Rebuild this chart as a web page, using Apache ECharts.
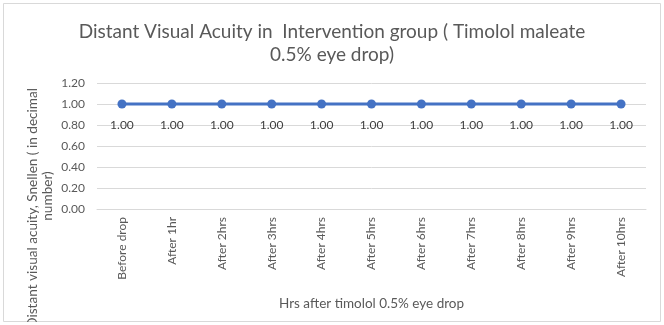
<!DOCTYPE html>
<html>
<head>
<meta charset="utf-8">
<script src="https://cdn.jsdelivr.net/npm/echarts@6/dist/echarts.min.js"></script>
<style>
html,body{margin:0;padding:0;background:#fff;}
#c{width:664px;height:325px;}
</style>
</head>
<body>
<div id="c"></div>
<script>
const categories = ['Before drop','After 1hr','After 2hrs','After 3hrs','After 4hrs','After 5hrs','After 6hrs','After 7hrs','After 8hrs','After 9hrs','After 10hrs'];
const acuity = [1.00,1.00,1.00,1.00,1.00,1.00,1.00,1.00,1.00,1.00,1.00];
const yTicks = [0.00,0.20,0.40,0.60,0.80,1.00,1.20];

const FONT = 'Lato, "Open Sans", sans-serif';
const chart = echarts.init(document.getElementById('c'), null, {renderer:'canvas'});
chart.setOption({
  animation:false,
  backgroundColor:'#ffffff',
  title:{
    text:'Distant Visual Acuity in  Intervention group ( Timolol maleate\n0.5% eye drop)',
    left:'center', top:15,
    textStyle:{fontFamily:FONT, fontSize:19, fontWeight:'normal', color:'#595959', lineHeight:23, align:'center'}
  },
  graphic:[
    {type:'rect', shape:{x:3.5,y:3.5,width:657,height:318}, style:{fill:'none', stroke:'#d9d9d9', lineWidth:1}, silent:true, z:-1},
    {type:'text', x:33, y:88, rotation:Math.PI/2, style:{text:'Distant visual acuity, Snellen ( in decimal', fontFamily:FONT, fontSize:13.6, fill:'#595959', textAlign:'right', textVerticalAlign:'middle'}},
    {type:'text', x:48, y:196, rotation:Math.PI/2, style:{text:'number)', fontFamily:FONT, fontSize:13.6, fill:'#595959', textAlign:'center', textVerticalAlign:'middle'}},
    {type:'rect', shape:{x:0,y:322,width:664,height:3}, style:{fill:'#ffffff'}, silent:true, z:100}
  ],
  grid:{left:97, right:18, top:83, bottom:116, containLabel:false},
  xAxis:{
    type:'category', data:categories, boundaryGap:true,
    name:'Hrs after timolol 0.5% eye drop', nameLocation:'middle', nameGap:88,
    nameTextStyle:{fontFamily:FONT, fontSize:13.5, color:'#595959'},
    axisLine:{show:true, lineStyle:{color:'#d9d9d9', width:1}},
    axisTick:{show:false},
    axisLabel:{rotate:90, margin:8, fontFamily:FONT, fontSize:12, color:'#595959', interval:0}
  },
  yAxis:{
    type:'value', min:0, max:1.2, interval:0.2,
    axisLine:{show:false}, axisTick:{show:false},
    splitLine:{show:true, lineStyle:{color:'#d9d9d9', width:1}},
    axisLabel:{margin:12, fontFamily:FONT, fontSize:12, color:'#595959',
      formatter:function(v){ const t = yTicks.find(x=>Math.abs(x-v)<1e-6); return (t!==undefined?t:v).toFixed(2); }}
  },
  series:[{
    type:'line', data:acuity,
    symbol:'circle', symbolSize:9,
    lineStyle:{color:'#4472c4', width:3},
    itemStyle:{color:'#4472c4'},
    label:{show:true, position:'bottom', distance:11, fontFamily:FONT, fontSize:12, color:'#404040',
      formatter:function(p){ return p.value.toFixed(2); }}
  }]
});
</script>
</body>
</html>
